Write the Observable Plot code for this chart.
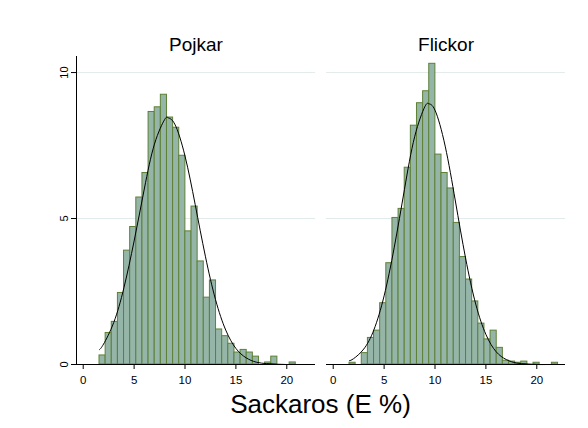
<!DOCTYPE html>
<html><head><meta charset="utf-8">
<script src="https://cdn.jsdelivr.net/npm/d3@7"></script>
<script src="https://cdn.jsdelivr.net/npm/@observablehq/plot@0.6"></script>
<style>
html,body{margin:0;padding:0;background:#fff;font-family:"Liberation Sans",Arial,sans-serif;}
#xtitle{width:489px;padding-left:76px;padding-right:23px;text-align:center;font-size:26px;line-height:28px;color:#000;}
</style></head>
<body><div id="chart"></div><div id="xtitle">Sackaros (E %)</div>
<script>
// Panels (by group)
const panels = ["Pojkar", "Flickor"];
// Common histogram bins (start, width), 34 bins
const binStart = 1.6;
const binWidth = 0.6026;
// Percent per bin
const pojkarPct = [0.31,1.08,1.46,2.45,3.90,4.71,5.72,6.56,8.65,8.81,9.24,8.46,8.11,7.15,4.56,5.41,3.53,2.29,2.88,1.20,0.97,0.71,0.41,0.50,0.41,0.27,0,0.07,0.27,0,0,0.07,0,0];
const flickorPct = [0.06,0,0.39,0.91,1.16,2.10,3.47,5.02,5.33,6.74,8.18,8.95,9.36,10.30,7.19,6.56,6.03,4.85,3.68,2.91,2.16,1.40,0.86,1.16,0.57,0.13,0.10,0.06,0.10,0,0.06,0,0,0.06];
// Normal overlay curves
const pojkarCurveX = [1.6,2,3,4,5,6,7,8,8.35,9,10,11,12,13,14,15,16,17,18,19,20,21,22,22.09];
const pojkarCurveY = [0.51,0.70,1.44,2.63,4.23,6.01,7.55,8.39,8.45,8.23,7.14,5.48,3.71,2.22,1.18,0.55,0.23,0.08,0.03,0.01,0,0,0,0];
const flickorCurveX = [1.6,2,3,4,5,6,7,8,9,9.4,10,11,12,13,14,15,16,17,18,19,20,21,22,22.09];
const flickorCurveY = [0.13,0.20,0.53,1.19,2.35,4.02,6.00,7.80,8.83,8.93,8.71,7.48,5.60,3.65,2.07,1.03,0.44,0.17,0.05,0.02,0,0,0,0];
// Axis ticks
const xTicks = [0,5,10,15,20];
const yTicks = [0,5,10];
const xDomain = [-0.66, 22.82];
const yDomain = [0, 10.55];

const bars = [];
panels.forEach((p, k) => (k ? flickorPct : pojkarPct).forEach((v, i) => {
  if (v > 0) bars.push({panel: p, x1: binStart + i * binWidth, x2: binStart + (i + 1) * binWidth, pct: v});
}));
const curve = [];
pojkarCurveX.forEach((x, i) => curve.push({panel: "Pojkar", x, y: pojkarCurveY[i]}));
flickorCurveX.forEach((x, i) => curve.push({panel: "Flickor", x, y: flickorCurveY[i]}));

const chart = Plot.plot({
  width: 588, height: 390,
  marginLeft: 76, marginRight: 23, marginTop: 56, marginBottom: 26,
  style: {fontFamily: "'Liberation Sans', Arial, sans-serif", background: "#fff", color: "#000"},
  fx: {domain: panels, paddingInner: 0.044, paddingOuter: 0, label: null},
  x: {domain: xDomain},
  y: {domain: yDomain},
  marks: [
    Plot.ruleY([5, 10], {stroke: "#e2ebeb", strokeWidth: 1}),
    Plot.axisFx({anchor: "top", tickSize: 0, tickPadding: 6, fontSize: 19, label: null}),
    Plot.axisY(yTicks, {tickRotate: -90, tickSize: 5, tickPadding: 4, fontSize: 11, label: null, stroke: "#000"}),
    Plot.axisX(xTicks, {tickSize: 5, tickPadding: 6, fontSize: 11.5, label: null, stroke: "#000"}),
    Plot.rectY(bars, {x1: "x1", x2: "x2", y: "pct", fx: "panel", fill: "#95b5a9", stroke: "#5d8036", strokeWidth: 1}),
    Plot.line(curve, {x: "x", y: "y", fx: "panel", curve: "natural", stroke: "#000", strokeWidth: 1}),
    Plot.ruleY([0], {stroke: "#000", strokeWidth: 1}),
    Plot.ruleX([{panel: "Pojkar", x: xDomain[0]}], {x: "x", fx: "panel", stroke: "#000", strokeWidth: 1})
  ]
});
document.getElementById("chart").appendChild(chart);
</script>
</body></html>
